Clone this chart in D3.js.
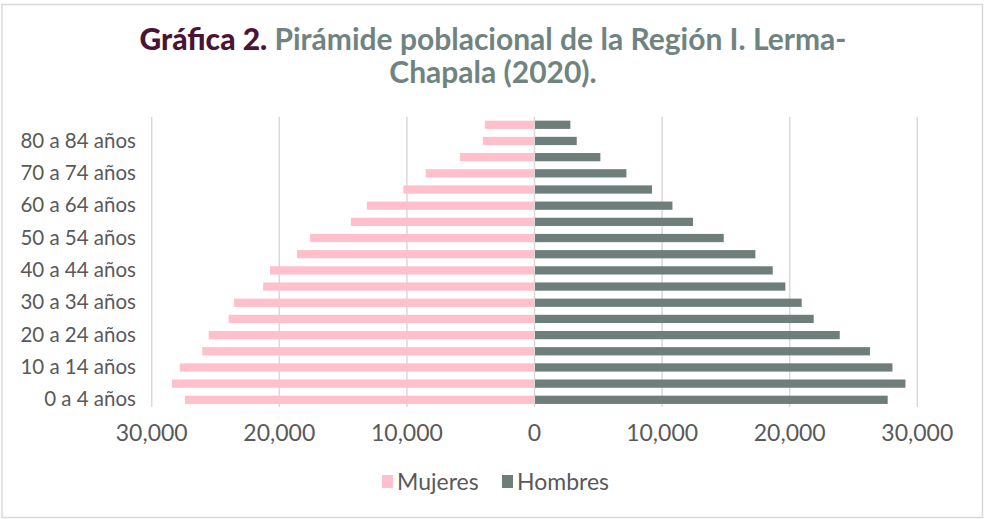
<!DOCTYPE html>
<html>
<head>
<meta charset="utf-8">
<script src="https://cdn.jsdelivr.net/npm/d3@7"></script>
<style>
  body { margin: 0; background: #fff; }
  svg { font-family: Lato, "Open Sans", sans-serif; }
</style>
</head>
<body>
<div id="chart"></div>
<script>
// age groups, bottom to top
const ageGroups = ['0 a 4 años', '5 a 9 años', '10 a 14 años', '15 a 19 años', '20 a 24 años',
  '25 a 29 años', '30 a 34 años', '35 a 39 años', '40 a 44 años', '45 a 49 años', '50 a 54 años',
  '55 a 59 años', '60 a 64 años', '65 a 69 años', '70 a 74 años', '75 a 79 años', '80 a 84 años',
  '85 años y más'];
const mujeres = [27350, 28380, 27760, 26000, 25490, 23930, 23520, 21230, 20690, 18580,
  17550, 14350, 13100, 10240, 8490, 5810, 4010, 3850];
const hombres = [27720, 29110, 28090, 26330, 23960, 21920, 20980, 19700, 18710, 17350,
  14870, 12460, 10850, 9250, 7240, 5200, 3350, 2850];
const xTicks = [-30000, -20000, -10000, 0, 10000, 20000, 30000];
const seriesNames = ['Mujeres', 'Hombres'];
const colors = { Mujeres: '#ffc0cb', Hombres: '#6d7e7b' };

const width = 984, height = 519;
const svg = d3.select('#chart').append('svg')
  .attr('width', width)
  .attr('height', height);

// outer frame
svg.append('rect')
  .attr('x', 2).attr('y', 4.5)
  .attr('width', 980.5).attr('height', 513)
  .attr('fill', 'none')
  .attr('stroke', '#d9d9d9')
  .attr('stroke-width', 1.5);

// title
const title = svg.append('text')
  .attr('text-anchor', 'middle')
  .attr('font-size', 30)
  .attr('fill', '#6f8480');
const l1 = title.append('tspan').attr('x', 493).attr('y', 50);
l1.append('tspan').attr('font-weight', 900).attr('fill', '#4b1434').text('Gráfica 2.');
l1.append('tspan').attr('font-weight', 700).text(' Pirámide poblacional de la Región I. Lerma-');
title.append('tspan').attr('x', 493).attr('y', 83).attr('font-weight', 700).text('Chapala (2020).');

const x = d3.scaleLinear()
  .domain([-30000, 30000])
  .range([151.2, 916.8]);

const y = d3.scaleBand()
  .domain(ageGroups.slice().reverse())
  .range([116.7, 407.9])
  .paddingInner(0.49)
  .paddingOuter(0.245);

// gridlines
svg.append('g')
  .attr('transform', 'translate(0,' + 407 + ')')
  .call(d3.axisBottom(x).tickValues(xTicks).tickSize(-(407 - 116.7)).tickFormat(''))
  .call(g => g.select('.domain').remove())
  .call(g => g.selectAll('line').attr('stroke', '#d9d9d9').attr('stroke-width', 1.5));

// bars
svg.append('g').selectAll('rect')
  .data(ageGroups.map((a, i) => ({ age: a, v: mujeres[i] })))
  .join('rect')
  .attr('x', d => x(-d.v))
  .attr('y', d => y(d.age))
  .attr('width', d => x(0) - x(-d.v))
  .attr('height', y.bandwidth())
  .attr('fill', colors.Mujeres);

svg.append('g').selectAll('rect')
  .data(ageGroups.map((a, i) => ({ age: a, v: hombres[i] })))
  .join('rect')
  .attr('x', x(0) + 1)
  .attr('y', d => y(d.age))
  .attr('width', d => x(d.v) - x(0) - 1)
  .attr('height', y.bandwidth())
  .attr('fill', colors.Hombres);

// y labels (every other one)
svg.append('g')
  .attr('transform', 'translate(136,0)')
  .call(d3.axisLeft(y).tickSize(0).tickPadding(0).tickValues(ageGroups.filter((a, i) => i % 2 === 0)))
  .call(g => g.select('.domain').remove())
  .call(g => g.selectAll('text')
    .attr('font-size', 20.5)
    .attr('font-family', 'Lato, sans-serif')
    .attr('fill', '#595959'));

// x labels
svg.append('g')
  .attr('transform', 'translate(0,425)')
  .call(d3.axisBottom(x).tickValues(xTicks).tickSize(0).tickPadding(0)
    .tickFormat(d => d3.format(',')(Math.abs(d))))
  .call(g => g.select('.domain').remove())
  .call(g => g.selectAll('text')
    .attr('font-size', 23)
    .attr('font-family', 'Lato, sans-serif')
    .attr('fill', '#595959'));

// legend
const legend = svg.append('g').attr('transform', 'translate(382,482)');
const legX = [0, 120];
seriesNames.forEach((s, i) => {
  const g = legend.append('g').attr('transform', 'translate(' + legX[i] + ',0)');
  g.append('rect').attr('x', 0).attr('y', -7).attr('width', 11).attr('height', 13).attr('fill', colors[s]);
  g.append('text').attr('x', 15).attr('y', 8)
    .attr('font-size', 23)
    .attr('fill', '#595959')
    .text(s);
});
</script>
</body>
</html>
